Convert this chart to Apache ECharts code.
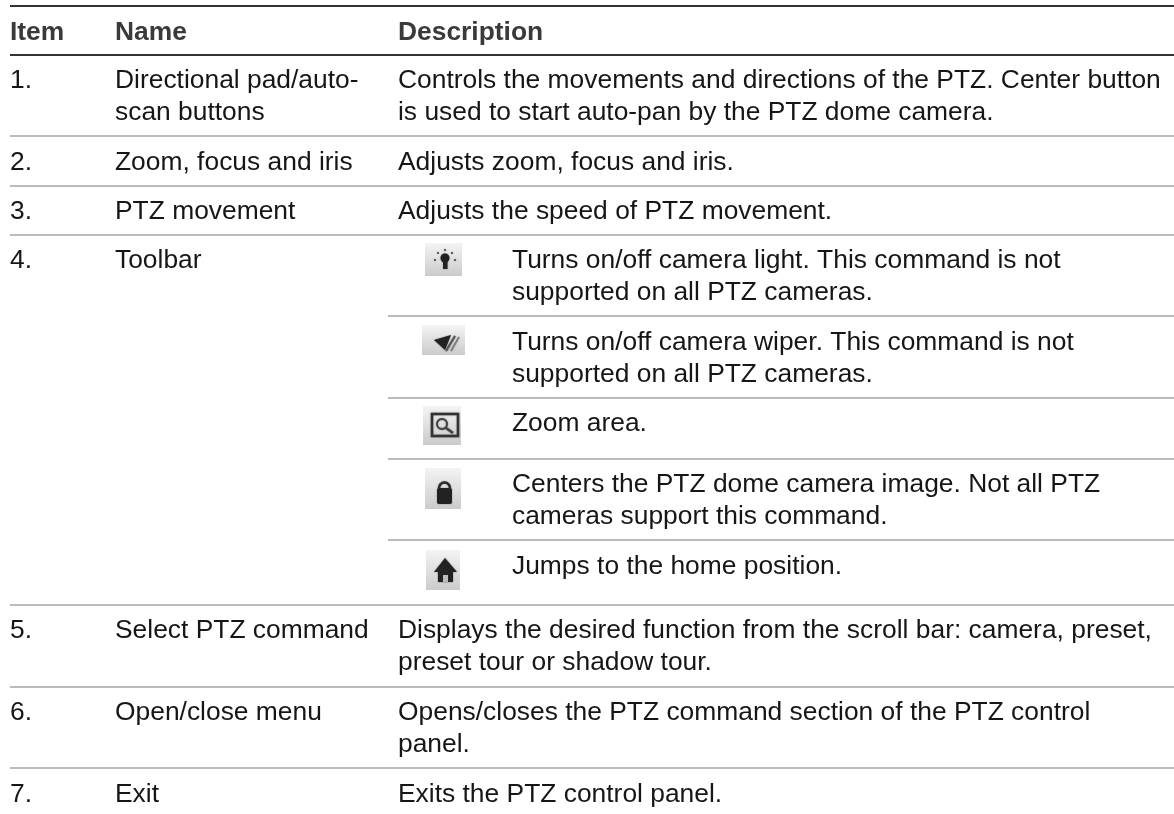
<!DOCTYPE html>
<html>
<head>
<meta charset="utf-8">
<style>
html, body { margin: 0; padding: 0; background: #fff; }
#main { width: 1174px; height: 814px; }
</style>
<script src="https://cdn.jsdelivr.net/npm/echarts@6/dist/echarts.min.js"></script>
</head>
<body>
<div id="main"></div>
<script>
// table contents
var headers = ['Item', 'Name', 'Description'];
var items = ['1.', '2.', '3.', '4.', '5.', '6.', '7.'];
var names = [
  ['Directional pad/auto-', 'scan buttons'],
  ['Zoom, focus and iris'],
  ['PTZ movement'],
  ['Toolbar'],
  ['Select PTZ command'],
  ['Open/close menu'],
  ['Exit']
];
var descriptions = [
  ['Controls the movements and directions of the PTZ. Center button', 'is used to start auto-pan by the PTZ dome camera.'],
  ['Adjusts zoom, focus and iris.'],
  ['Adjusts the speed of PTZ movement.'],
  [],
  ['Displays the desired function from the scroll bar: camera, preset,', 'preset tour or shadow tour.'],
  ['Opens/closes the PTZ command section of the PTZ control', 'panel.'],
  ['Exits the PTZ control panel.']
];
var toolbarTexts = [
  ['Turns on/off camera light. This command is not', 'supported on all PTZ cameras.'],
  ['Turns on/off camera wiper. This command is not', 'supported on all PTZ cameras.'],
  ['Zoom area.'],
  ['Centers the PTZ dome camera image. Not all PTZ', 'cameras support this command.'],
  ['Jumps to the home position.']
];

var font = '"Liberation Sans", Arial, sans-serif';
var fontSize = 26.4;
var lineH = 32;
var colX = [10, 115, 398];
var toolTextX = 512;
var dark = '#222';

var els = [];
function text(x, y, s, bold) {
  els.push({
    type: 'text', x: x, y: y,
    style: { text: s, fill: bold ? '#3a3a3a' : '#161616', font: (bold ? 'bold ' : '') + fontSize + 'px ' + font, textVerticalAlign: 'middle' }
  });
}
function hline(x1, x2, y, color, w) {
  els.push({ type: 'line', shape: { x1: x1, y1: y, x2: x2, y2: y }, style: { stroke: color, lineWidth: w } });
}

// rules
hline(10, 1174, 6, '#333', 2);
hline(10, 1174, 55, '#333', 2);
[136, 186, 235, 605, 687, 768].forEach(function (y) { hline(10, 1174, y, '#bbb', 2); });
[316, 398, 459, 540].forEach(function (y) { hline(388, 1174, y, '#bbb', 2); });

// header
headers.forEach(function (h, i) { text(colX[i], 33, h, true); });

// rows
var rowY = [81, 163, 212, 261, 631, 713, 795];
items.forEach(function (it, i) {
  text(colX[0], rowY[i], it);
  names[i].forEach(function (s, j) { text(colX[1], rowY[i] + j * lineH, s); });
  descriptions[i].forEach(function (s, j) { text(colX[2], rowY[i] + j * lineH, s); });
});

// toolbar sub rows
var subY = [261, 343, 424, 485, 567];
toolbarTexts.forEach(function (t, i) {
  t.forEach(function (s, j) { text(toolTextX, subY[i] + j * lineH, s); });
});

// toolbar icons: grey button with a dark glyph
function iconBox(x1, y1, x2, y2) {
  els.push({
    type: 'rect', shape: { x: x1, y: y1, width: x2 - x1, height: y2 - y1 },
    style: { fill: new echarts.graphic.LinearGradient(0, 0, 0, 1, [{ offset: 0, color: '#f4f4f4' }, { offset: 1, color: '#cbcbcb' }]) }
  });
}
function soft(style) { style.shadowBlur = 1.5; style.shadowColor = 'rgba(40,40,40,0.6)'; return style; }
function circle(cx, cy, r, style) { els.push({ type: 'circle', shape: { cx: cx, cy: cy, r: r }, style: soft(style) }); }
function box(x, y, w, h, style, r) { els.push({ type: 'rect', shape: { x: x, y: y, width: w, height: h, r: r || 0 }, style: soft(style) }); }
function poly(points, style) { els.push({ type: 'polygon', shape: { points: points }, style: soft(style) }); }
function seg(x1, y1, x2, y2, color, w) { els.push({ type: 'line', shape: { x1: x1, y1: y1, x2: x2, y2: y2 }, style: soft({ stroke: color, lineWidth: w }) }); }

// light
iconBox(425, 243, 462, 276);
circle(445, 258, 4.5, { fill: dark });
box(443, 261, 4.5, 8, { fill: dark });
[[445, 250], [438, 253], [452, 253], [435, 260], [455, 260]].forEach(function (p) { circle(p[0], p[1], 1, { fill: '#444' }); });

// wiper
iconBox(422, 325, 465, 355);
poly([[434, 340], [451, 335], [445, 350]], { fill: dark });
seg(446, 351, 455, 336, '#555', 2);
seg(451, 351, 459, 337, '#777', 1.5);

// zoom area
iconBox(423, 406, 461, 445);
box(432, 414, 26, 22, { fill: 'rgba(0,0,0,0)', stroke: '#333', lineWidth: 2.5 });
circle(442, 424, 5, { fill: 'rgba(0,0,0,0)', stroke: '#444', lineWidth: 2 });
seg(446, 428, 453, 433, '#444', 2.5);

// lock
iconBox(425, 468, 461, 509);
box(437, 488, 15, 16, { fill: dark }, 2);
els.push({ type: 'arc', shape: { cx: 444.5, cy: 488, r: 5.5, startAngle: Math.PI, endAngle: 0 }, style: soft({ fill: 'none', stroke: '#2a2a2a', lineWidth: 2.5 }) });

// home
iconBox(426, 550, 460, 590);
poly([[445, 558], [434, 572], [457, 572]], { fill: dark });
box(438, 570, 15, 12, { fill: dark });
box(443, 575, 5, 7, { fill: '#bbb' });

var chart = echarts.init(document.getElementById('main'), null, { renderer: 'canvas' });
chart.setOption({ animation: false, graphic: { elements: els } });
</script>
</body>
</html>
